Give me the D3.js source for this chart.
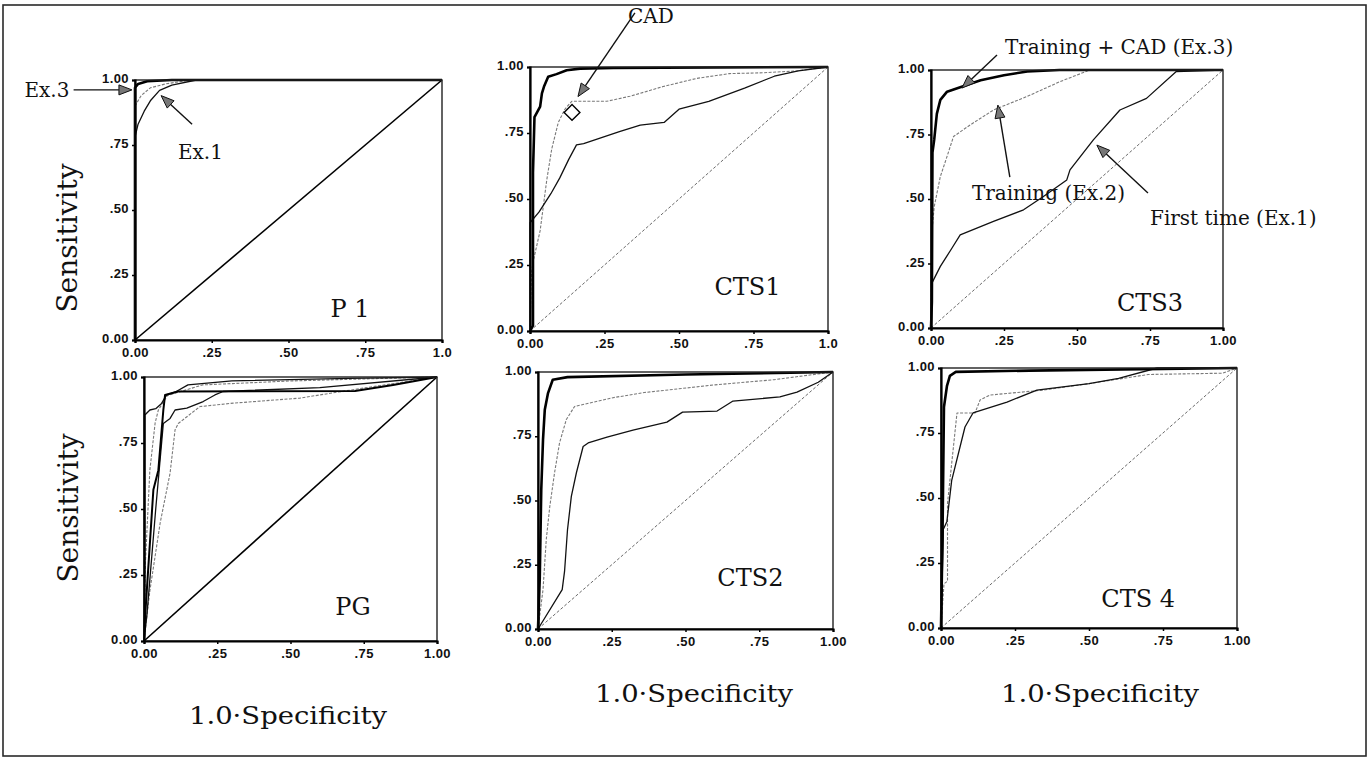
<!DOCTYPE html>
<html><head><meta charset="utf-8">
<script src="https://cdn.jsdelivr.net/npm/d3@7"></script>
<style>body{margin:0;background:#fff}</style>
</head><body><svg id="c" width="1371" height="760"></svg>
<script>
// ---------- data ----------
const tickValues = [0, 0.25, 0.5, 0.75, 1];
const yTickLabels = ["0.00", ".25", ".50", ".75", "1.00"];
const xTickLabels = ["0.00", ".25", ".50", ".75", "1.00"];
const xTickLabelsCut = ["0.00", ".25", ".50", ".75", "1.0"];
const panelNames = ["P 1", "CTS1", "CTS3", "PG", "CTS2", "CTS 4"];
const diagonal = [[0, 0], [1, 1]];

// [1 - specificity, sensitivity]
const p1Ex3 = [[0,0],[0,0.97],[0.01,0.985],[0.04,0.995],[0.12,1],[1,1]];
const p1Ex2 = [[0,0],[0,0.9],[0.02,0.94],[0.05,0.97],[0.1,0.985],[0.18,1],[1,1]];
const p1Ex1 = [[0,0],[0,0.78],[0.01,0.83],[0.03,0.88],[0.05,0.92],[0.08,0.96],[0.12,0.98],[0.2,1],[1,1]];

const cts1Ex3 = [[0,0],[0.01,0.02],[0.01,0.6],[0.015,0.81],[0.034,0.85],[0.04,0.9],[0.047,0.926],[0.061,0.963],[0.089,0.973],[0.123,0.988],[0.168,0.994],[0.28,0.996],[1,1]];
const cts1Ex2 = [[0,0],[0.005,0.22],[0.01,0.26],[0.034,0.38],[0.056,0.57],[0.073,0.69],[0.095,0.79],[0.117,0.84],[0.14,0.87],[0.257,0.87],[0.335,0.889],[0.447,0.926],[0.56,0.957],[0.67,0.975],[0.78,0.978],[0.894,0.985],[1,1]];
const cts1Ex1 = [[0,0],[0,0.41],[0.03,0.45],[0.07,0.52],[0.1,0.58],[0.13,0.65],[0.156,0.705],[0.18,0.71],[0.3,0.755],[0.37,0.78],[0.45,0.79],[0.5,0.84],[0.6,0.87],[0.72,0.92],[0.82,0.965],[0.9,0.985],[1,1]];
const cadPoint = [0.141, 0.828];

const cts3Ex3 = [[0,0],[0.003,0.1],[0.005,0.68],[0.011,0.73],[0.02,0.83],[0.032,0.884],[0.055,0.916],[0.1,0.933],[0.17,0.96],[0.25,0.98],[0.33,0.994],[0.44,1],[1,1]];
const cts3Ex2 = [[0,0],[0.003,0.37],[0.011,0.47],[0.032,0.587],[0.055,0.665],[0.077,0.742],[0.134,0.787],[0.214,0.845],[0.328,0.897],[0.442,0.955],[0.544,1],[1,1]];
const cts3Ex1 = [[0,0],[0.003,0.174],[0.032,0.239],[0.072,0.31],[0.1,0.361],[0.214,0.413],[0.317,0.458],[0.385,0.51],[0.465,0.574],[0.476,0.613],[0.556,0.729],[0.647,0.845],[0.738,0.89],[0.84,0.994],[1,1]];

const pgA = [[0,0],[0.003,0.3],[0.003,0.856],[0.02,0.875],[0.04,0.88],[0.06,0.9],[0.077,0.932],[0.11,0.945],[0.15,0.97],[0.3,0.985],[0.7,0.995],[1,1]];
const pgB = [[0,0],[0.003,0.079],[0.032,0.573],[0.049,0.647],[0.066,0.875],[0.072,0.932],[0.116,0.945],[0.72,0.947],[0.85,0.97],[1,1]];
const pgC = [[0,0],[0.01,0.1],[0.04,0.5],[0.066,0.824],[0.089,0.843],[0.106,0.875],[0.146,0.882],[0.202,0.907],[0.242,0.932],[0.27,0.945],[0.6,0.96],[1,1]];
const pgD = [[0,0],[0.005,0.3],[0.02,0.647],[0.038,0.826],[0.049,0.875],[0.08,0.93],[0.2,0.97],[0.5,0.985],[1,1]];
const pgE = [[0,0],[0.02,0.19],[0.055,0.446],[0.089,0.636],[0.106,0.8],[0.117,0.824],[0.191,0.888],[0.305,0.901],[0.532,0.92],[0.713,0.952],[1,1]];

const cts2Ex3 = [[0,0],[0.006,0.2],[0.011,0.54],[0.017,0.737],[0.023,0.853],[0.034,0.918],[0.05,0.97],[0.1,0.98],[0.5,0.99],[1,1]];
const cts2Ex2 = [[0,0],[0.017,0.153],[0.028,0.348],[0.04,0.477],[0.056,0.607],[0.073,0.724],[0.096,0.815],[0.124,0.866],[0.254,0.9],[0.36,0.92],[0.6,0.95],[0.8,0.97],[1,1]];
const cts2Ex1 = [[0,0],[0.082,0.153],[0.09,0.224],[0.1,0.386],[0.113,0.516],[0.13,0.607],[0.153,0.71],[0.17,0.724],[0.234,0.747],[0.322,0.774],[0.437,0.805],[0.49,0.844],[0.607,0.848],[0.661,0.887],[0.82,0.903],[0.878,0.922],[0.95,0.96],[1,1]];

const cts4Ex3 = [[0,0],[0.005,0.35],[0.01,0.85],[0.02,0.93],[0.03,0.97],[0.05,0.985],[0.3,0.99],[1,1]];
const cts4Ex2 = [[0,0],[0.01,0.17],[0.022,0.18],[0.022,0.48],[0.054,0.827],[0.115,0.827],[0.132,0.877],[0.166,0.896],[0.345,0.915],[0.5,0.94],[0.7,0.975],[0.95,0.98],[1,1]];
const cts4Ex1 = [[0,0],[0.008,0.38],[0.02,0.41],[0.036,0.567],[0.081,0.773],[0.108,0.827],[0.223,0.869],[0.324,0.915],[0.5,0.94],[0.6,0.96],[0.73,1],[1,1]];

// ---------- layout / style ----------
const W = 1371, H = 760;
const serif = "'DejaVu Serif', serif";
const sans = "'Liberation Sans', Arial, sans-serif";
const styles = {
  ex3: {stroke: "#000", w: 2.6, dash: null},
  ex3b: {stroke: "#000", w: 2.0, dash: null},
  ex1: {stroke: "#111", w: 1.3, dash: null},
  ex2: {stroke: "#7a7a7a", w: 1.1, dash: "3,1.5"},
  diagDot: {stroke: "#6a6a6a", w: 1, dash: "3,2"},
  diagSolid: {stroke: "#000", w: 1.6, dash: null}
};

const panels = [
  {name: panelNames[0], x0: 135, x1: 442, yT: 80, yB: 340, xl: xTickLabelsCut, diag: "diagSolid", nameAt: [0.70, 0.12],
   series: [[p1Ex2, "ex2"], [p1Ex1, "ex1"], [p1Ex3, "ex3"]]},
  {name: panelNames[1], x0: 530, x1: 828, yT: 67, yB: 331, xl: xTickLabelsCut, diag: "diagDot", nameAt: [0.73, 0.17],
   series: [[cts1Ex2, "ex2"], [cts1Ex1, "ex1"], [cts1Ex3, "ex3"]]},
  {name: panelNames[2], x0: 931, x1: 1223, yT: 70, yB: 328, xl: xTickLabels, diag: "diagDot", nameAt: [0.75, 0.097],
   series: [[cts3Ex2, "ex2"], [cts3Ex1, "ex1"], [cts3Ex3, "ex3"]]},
  {name: panelNames[3], x0: 144, x1: 437, yT: 377, yB: 641, xl: xTickLabels, diag: "diagSolid", nameAt: [0.713, 0.129],
   series: [[pgD, "ex2"], [pgE, "ex2"], [pgA, "ex1"], [pgC, "ex1"], [pgB, "ex3b"]]},
  {name: panelNames[4], x0: 538, x1: 833, yT: 372, yB: 629, xl: xTickLabels, diag: "diagDot", nameAt: [0.72, 0.2],
   series: [[cts2Ex2, "ex2"], [cts2Ex1, "ex1"], [cts2Ex3, "ex3"]]},
  {name: panelNames[5], x0: 941, x1: 1237, yT: 368, yB: 628, xl: xTickLabels, diag: "diagDot", nameAt: [0.666, 0.115],
   series: [[cts4Ex2, "ex2"], [cts4Ex1, "ex1"], [cts4Ex3, "ex3"]]}
];

const svg = d3.select("#c");
svg.append("rect").attr("width", W).attr("height", H).attr("fill", "#fff");
svg.append("rect").attr("x", 3).attr("y", 5).attr("width", 1363).attr("height", 751)
  .attr("fill", "none").attr("stroke", "#2a2a2a").attr("stroke-width", 1.6);

function applyStyle(sel, st) {
  sel.attr("fill", "none").attr("stroke", st.stroke).attr("stroke-width", st.w)
    .attr("stroke-linejoin", "round");
  if (st.dash) sel.attr("stroke-dasharray", st.dash);
}

panels.forEach(p => {
  const x = d3.scaleLinear().domain([0, 1]).range([p.x0, p.x1]);
  const y = d3.scaleLinear().domain([0, 1]).range([p.yB, p.yT]);
  p.x = x; p.y = y;
  const g = svg.append("g");
  const line = d3.line().x(d => x(d[0])).y(d => y(d[1]));
  applyStyle(g.append("path").datum(diagonal).attr("d", line), styles[p.diag]);
  p.series.forEach(([data, st]) => applyStyle(g.append("path").datum(data).attr("d", line), styles[st]));

  g.append("rect").attr("x", p.x0).attr("y", p.yT).attr("width", p.x1 - p.x0).attr("height", p.yB - p.yT)
    .attr("fill", "none").attr("stroke", "#222").attr("stroke-width", 1.4);

  const ax = g.append("g").attr("transform", `translate(0,${p.yB})`)
    .call(d3.axisBottom(x).tickValues(tickValues).tickFormat((d, i) => p.xl[i]).tickSize(3).tickPadding(5));
  const ay = g.append("g").attr("transform", `translate(${p.x0},0)`)
    .call(d3.axisLeft(y).tickValues(tickValues).tickFormat((d, i) => yTickLabels[i]).tickSize(3).tickPadding(3));
  [ax, ay].forEach(a => {
    a.select(".domain").attr("stroke", "#000").attr("stroke-width", 2.2);
    a.selectAll(".tick line").attr("stroke", "#000").attr("stroke-width", 1.5);
    a.selectAll("text").attr("font-family", sans).attr("font-weight", "bold").attr("font-size", 13)
      .attr("fill", "#111").attr("letter-spacing", 0.4);
  });
  ay.selectAll("text").attr("dy", "0.2em");

  g.append("text").attr("x", x(p.nameAt[0])).attr("y", y(p.nameAt[1])).attr("dy", "0.35em")
    .attr("text-anchor", "middle").attr("font-family", serif).attr("font-size", 24).attr("fill", "#111")
    .text(p.name);
});

const c1 = panels[1];
svg.append("path").attr("d", d3.symbol().type(d3.symbolSquare).size(125)())
  .attr("transform", `translate(${c1.x(cadPoint[0])},${c1.y(cadPoint[1])}) rotate(45)`)
  .attr("fill", "#fff").attr("stroke", "#000").attr("stroke-width", 1.4);

// ---------- annotations ----------
const annotations = [
  {panel: 0, text: "Ex.3", tx: -0.36, ty: 0.96, from: [-0.2, 0.962], to: [-0.01, 0.962]},
  {panel: 0, text: "Ex.1", tx: 0.14, ty: 0.723, from: [0.186, 0.83], to: [0.085, 0.94]},
  {panel: 1, text: "CAD", tx: 0.329, ty: 1.194, from: [0.352, 1.205], to: [0.161, 0.888]},
  {panel: 2, text: "Training + CAD (Ex.3)", tx: 0.253, ty: 1.089, from: [0.226, 1.058], to: [0.106, 0.93]},
  {panel: 2, text: "Training (Ex.2)", tx: 0.14, ty: 0.523, from: [0.27, 0.585], to: [0.229, 0.864]},
  {panel: 2, text: "First time (Ex.1)", tx: 0.75, ty: 0.426, from: [0.743, 0.523], to: [0.568, 0.709]}
];

annotations.forEach(a => {
  const p = panels[a.panel];
  const x1 = p.x(a.from[0]), y1 = p.y(a.from[1]), x2 = p.x(a.to[0]), y2 = p.y(a.to[1]);
  const ang = Math.atan2(y2 - y1, x2 - x1);
  const L = 13, Wd = 5;
  const bx = x2 - L * Math.cos(ang), by = y2 - L * Math.sin(ang);
  svg.append("line").attr("x1", x1).attr("y1", y1).attr("x2", bx).attr("y2", by)
    .attr("stroke", "#111").attr("stroke-width", 1.4);
  const pts = [[x2, y2], [bx + Wd * Math.sin(ang), by - Wd * Math.cos(ang)], [bx - Wd * Math.sin(ang), by + Wd * Math.cos(ang)]];
  svg.append("polygon").attr("points", pts.map(d => d.join(",")).join(" "))
    .attr("fill", "#777").attr("stroke", "#111").attr("stroke-width", 1);
  svg.append("text").attr("x", p.x(a.tx)).attr("y", p.y(a.ty)).attr("dy", "0.35em")
    .attr("font-family", serif).attr("font-size", 20).attr("fill", "#111").text(a.text);
});

// ---------- axis titles ----------
const yTitles = [[67, 238], [68, 508]];
yTitles.forEach(([cx, cy]) => {
  svg.append("text").attr("transform", `translate(${cx},${cy}) rotate(-90)`).attr("text-anchor", "middle")
    .attr("dy", "0.35em").attr("font-family", serif).attr("font-size", 28).attr("fill", "#111").text("Sensitivity");
});
const xTitles = [[288, 715], [694, 693], [1100, 693]];
xTitles.forEach(([cx, cy]) => {
  svg.append("text").attr("x", cx).attr("y", cy).attr("text-anchor", "middle").attr("dy", "0.35em")
    .attr("font-family", serif).attr("font-size", 25).attr("fill", "#111")
    .attr("textLength", 198).attr("lengthAdjust", "spacingAndGlyphs").text("1.0\u00B7Specificity");
});
</script></body></html>
